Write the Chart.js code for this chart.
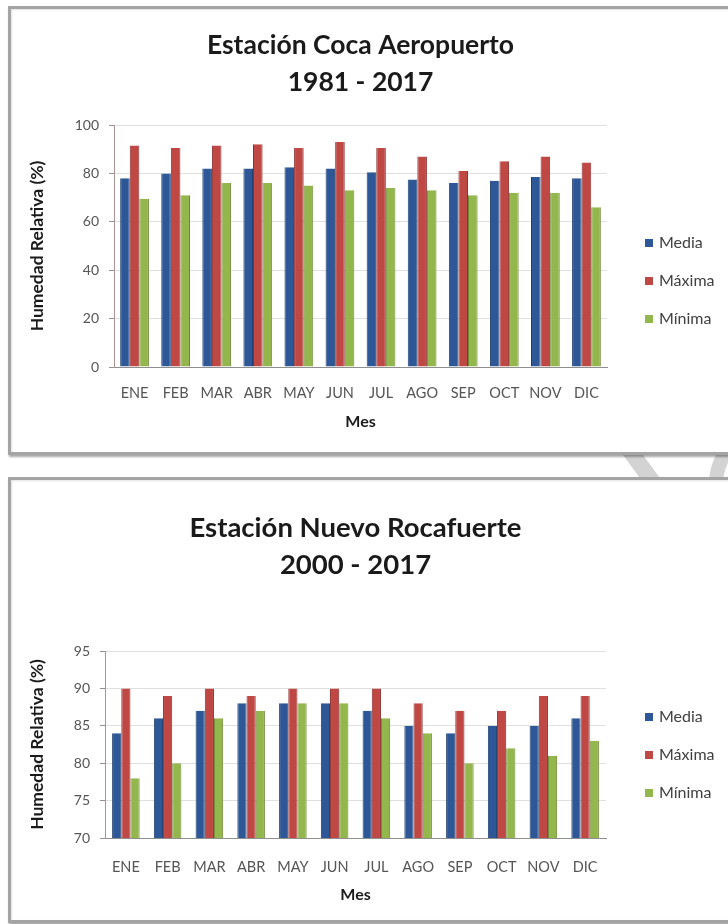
<!DOCTYPE html>
<html lang="es">
<head>
<meta charset="utf-8">
<title>Humedad relativa mensual</title>
<script src="https://cdn.jsdelivr.net/npm/chart.js@4.4.1/dist/chart.umd.min.js"></script>
<style>
  html, body { margin: 0; padding: 0; background: #fff; width: 728px; height: 924px; overflow: hidden; }
  .marca { position: absolute; left: 0; top: 0; z-index: 0; }
  .marco { position: absolute; left: 8px; width: 760px; background: #fff; border: 3px solid #a4a4a4;
           box-shadow: 1px 2px 2px rgba(0,0,0,0.35), inset 1px 1px 2px rgba(0,0,0,0.12); z-index: 1; }
  #marco1 { top: 6px; height: 443px; }
  #marco2 { top: 477px; height: 440px; }
  canvas { position: absolute; left: 0; z-index: 2; }
  #graf1 { top: 0; }
  #graf2 { top: 464px; }
</style>
</head>
<body>
<svg class="marca" width="728" height="924">
  <path d="M612 440 L632 440 L676 500 L656 500 Z" fill="#d3d3d3"/>
  <path d="M736 440 Q712 462 716 500" stroke="#d3d3d3" stroke-width="14" fill="none"/>
</svg>
<div class="marco" id="marco1"></div>
<div class="marco" id="marco2"></div>
<canvas id="graf1" width="728" height="460"></canvas>
<canvas id="graf2" width="728" height="460"></canvas>

<script>
// Meses y series
const meses = ['ENE', 'FEB', 'MAR', 'ABR', 'MAY', 'JUN', 'JUL', 'AGO', 'SEP', 'OCT', 'NOV', 'DIC'];
const series = ['Media', 'Máxima', 'Mínima'];

// Estación Coca Aeropuerto 1981 - 2017 (%)
const cocaMedia  = [78, 80, 82, 82, 82.5, 82, 80.5, 77.5, 76, 77, 78.5, 78];
const cocaMaxima = [91.5, 90.5, 91.5, 92, 90.5, 93, 90.5, 87, 81, 85, 87, 84.5];
const cocaMinima = [69.5, 71, 76, 76, 75, 73, 74, 73, 71, 72, 72, 66];
const cocaTicks  = [0, 20, 40, 60, 80, 100];

// Estación Nuevo Rocafuerte 2000 - 2017 (%)
const rocaMedia  = [84, 86, 87, 88, 88, 88, 87, 85, 84, 85, 85, 86];
const rocaMaxima = [90, 89, 90, 89, 90, 90, 90, 88, 87, 87, 89, 89];
const rocaMinima = [78, 80, 86, 87, 88, 88, 86, 84, 80, 82, 81, 83];
const rocaTicks  = [70, 75, 80, 85, 90, 95];

const colores = ['#2d5797', '#bf4744', '#93b74c'];
const bordes  = ['#1f3f70', '#8e302d', '#6d8a35'];
const FUENTE = 'Lato, "Open Sans", sans-serif';

// Leyenda lateral dibujada a la derecha del área de trazado
const leyendaLateral = {
  id: 'leyendaLateral',
  afterDraw(chart, args, o) {
    const ctx = chart.ctx;
    ctx.save();
    ctx.font = o.size + 'px ' + FUENTE;
    ctx.textBaseline = 'middle';
    ctx.textAlign = 'left';
    chart.data.datasets.forEach((ds, i) => {
      const y = o.top + i * o.gap;
      ctx.fillStyle = ds.backgroundColor;
      ctx.fillRect(o.x, y - o.box / 2, o.box, o.box);
      ctx.fillStyle = o.color;
      ctx.fillText(ds.label, o.x + o.box + o.space, y);
    });
    ctx.restore();
  }
};

function crearGrafico(id, titulo, valores, ticks, cfg) {
  const datasets = valores.map((v, i) => ({
    label: series[i],
    data: v,
    backgroundColor: colores[i],
    borderColor: bordes[i],
    borderWidth: { left: 1, right: 1, top: 0, bottom: 0 },
    categoryPercentage: cfg.grupo,
    barPercentage: 1.0
  }));
  return new Chart(document.getElementById(id), {
    type: 'bar',
    data: { labels: meses, datasets },
    plugins: [leyendaLateral],
    options: {
      responsive: false,
      animation: false,
      layout: { padding: { left: 0, right: cfg.derecha, top: 0, bottom: 0 } },
      plugins: {
        legend: { display: false },
        tooltip: { enabled: false },
        title: {
          display: true,
          fullSize: false,
          text: titulo,
          color: '#1a1a1a',
          font: { family: FUENTE, size: cfg.tituloTam, weight: 'bold', lineHeight: '37px' },
          padding: cfg.tituloPad
        },
        leyendaLateral: { x: 645, top: cfg.leyendaY, gap: 38, box: 8, space: 6, size: 16, color: '#404040' }
      },
      scales: {
        x: {
          afterFit(s) { s.height = cfg.altoX; },
          grid: { display: false, drawTicks: false, tickLength: 0 },
          border: { display: true, color: '#8f8f8f', width: 1 },
          ticks: { color: '#555', font: { family: FUENTE, size: 14.5 }, padding: cfg.mesesPad, maxRotation: 0, autoSkip: false },
          title: { display: true, text: 'Mes', color: '#1a1a1a', font: { family: FUENTE, size: 16, weight: 'bold' },
                   padding: { top: 0, bottom: cfg.mesPad } }
        },
        y: {
          min: ticks[0],
          max: ticks[ticks.length - 1],
          afterFit(s) { s.width = cfg.anchoY; },
          afterBuildTicks(s) { s.ticks = ticks.map(v => ({ value: v })); },
          grid: { color: '#e0e0e0', lineWidth: 1, drawTicks: true, tickLength: 5, tickColor: '#9a8e8e' },
          border: { display: true, color: '#a89494', width: 1 },
          ticks: { color: '#555', font: { family: FUENTE, size: 14 }, padding: 10 },
          title: { display: true, text: 'Humedad Relativa (%)', color: '#1a1a1a',
                   font: { family: FUENTE, size: 17.5, weight: 'bold' }, padding: { top: 27, bottom: 0 } }
        }
      }
    }
  });
}

crearGrafico('graf1', ['Estación Coca Aeropuerto', '1981 - 2017'],
  [cocaMedia, cocaMaxima, cocaMinima], cocaTicks,
  { anchoY: 114, altoX: 93, derecha: 121, grupo: 0.7, tituloTam: 26.5, tituloPad: { top: 26.5, bottom: 24.5 },
    mesesPad: 17.5, mesPad: 28.5, leyendaY: 243 });

crearGrafico('graf2', ['Estación Nuevo Rocafuerte', '2000 - 2017'],
  [rocaMedia, rocaMaxima, rocaMinima], rocaTicks,
  { anchoY: 105, altoX: 86, derecha: 122, grupo: 0.66, tituloTam: 27.5, tituloPad: { top: 45.5, bottom: 67.5 },
    mesesPad: 20.5, mesPad: 20, leyendaY: 253 });
</script>
</body>
</html>
